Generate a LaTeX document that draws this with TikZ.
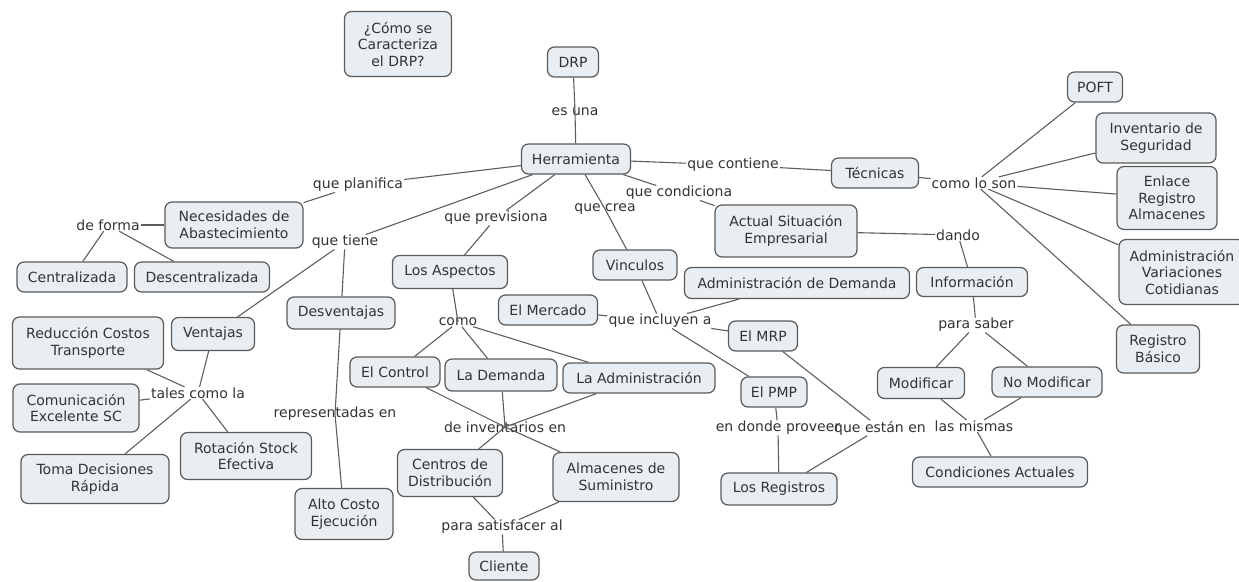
\documentclass[tikz,border=0pt]{standalone}
\usepackage{fontspec}
\setmainfont{DejaVu Sans}
\definecolor{boxfill}{HTML}{E8EEF2}
\definecolor{boxline}{HTML}{5A5A5A}
\definecolor{ink}{HTML}{333333}
\definecolor{linkline}{HTML}{5E5E5E}

\begin{document}
\begin{tikzpicture}[x=1pt,y=-1pt,
  concept/.style={draw=boxline, line width=1.2pt, fill=boxfill, rounded corners=7pt,
    text=ink, font=\fontsize{14}{16.5}\selectfont, align=center, inner sep=2pt},
  cb/.style 2 args={concept, minimum width=#1, minimum height=#2},
  linkword/.style={text=ink, font=\fontsize{14}{16.5}\selectfont, inner xsep=1pt, inner ysep=0.5pt},
  link/.style={draw=linkline, line width=1.1pt}]
\useasboundingbox (0,0) rectangle (1239,581);
\fill[white] (0,0) rectangle (1239,581);

% ---------- concepts ----------
\node[cb={107}{65}] (q) at (398,44) {¿Cómo se\\Caracteriza\\el DRP?};
\node[cb={51}{30}] (drp) at (573,62) {DRP};
\node[cb={109}{30}] (herr) at (576,159) {Herramienta};
\node[cb={138}{46}] (nec) at (234,225) {Necesidades de\\Abastecimiento};
\node[cb={110}{30}] (cent) at (72,277) {Centralizada};
\node[cb={135}{30}] (desc) at (202,277) {Descentralizada};
\node[cb={115}{33}] (asp) at (450,272) {Los Aspectos};
\node[cb={84}{30}] (vinc) at (635,265) {Vinculos};
\node[cb={142}{52}] (act) at (786,231) {Actual Situación\\Empresarial};
\node[cb={225}{31}] (admd) at (797,283) {Administración de Demanda};
\node[cb={87}{30}] (tec) at (875,173) {Técnicas};
\node[cb={55}{30}] (poft) at (1095,87) {POFT};
\node[cb={120}{50}] (inv) at (1156,138) {Inventario de\\Seguridad};
\node[cb={100}{63}] (enl) at (1167,198) {Enlace\\Registro\\Almacenes};
\node[cb={126}{65}] (adv) at (1182,272) {Administración\\Variaciones\\Cotidianas};
\node[cb={111}{29}] (info) at (972,282) {Información};
\node[cb={83}{48}] (regb) at (1158,349) {Registro\\Básico};
\node[cb={87}{31}] (mod) at (921,383) {Modificar};
\node[cb={110}{30}] (nomod) at (1047,382) {No Modificar};
\node[cb={175}{30}] (cond) at (1000,472) {Condiciones Actuales};
\node[cb={108}{32}] (desv) at (341,313) {Desventajas};
\node[cb={151}{52}] (red) at (88,343) {Reducción Costos\\Transporte};
\node[cb={83}{33}] (vent) at (213,334) {Ventajas};
\node[cb={126}{48}] (com) at (76,408) {Comunicación\\Excelente SC};
\node[cb={131}{47}] (rot) at (246,456) {Rotación Stock\\Efectiva};
\node[cb={148}{49}] (toma) at (95,479) {Toma Decisiones\\Rápida};
\node[cb={98}{51}] (alto) at (344,514) {Alto Costo\\Ejecución};
\node[cb={99}{30}] (merc) at (548,310) {El Mercado};
\node[cb={69}{30}] (mrp) at (763,336) {El MRP};
\node[cb={90}{30}] (ctrl) at (395,372) {El Control};
\node[cb={112}{32}] (dem) at (501,375) {La Demanda};
\node[cb={152}{30}] (adm) at (639,378) {La Administración};
\node[cb={66}{30}] (pmp) at (774,392) {El PMP};
\node[cb={105}{47}] (cen) at (450,473) {Centros de\\Distribución};
\node[cb={126}{49}] (alm) at (616,477) {Almacenes de\\Suministro};
\node[cb={116}{32}] (reg) at (779,489) {Los Registros};
\node[cb={70}{28}] (cli) at (504,566) {Cliente};

% ---------- linking words ----------
\node[linkword] (esuna) at (575,112) {es una};
\node[linkword] (qplan) at (358,185) {que planifica};
\node[linkword] (qtiene) at (345,242) {que tiene};
\node[linkword] (qprev) at (496,218) {que previsiona};
\node[linkword] (qcrea) at (605,209) {que crea};
\node[linkword] (qcond) at (679,193) {que condiciona};
\node[linkword] (qcont) at (733,165) {que contiene};
\node[linkword] (comolo) at (974,183) {como lo son};
\node[linkword] (dando) at (958,235) {dando};
\node[linkword] (psaber) at (976,325) {para saber};
\node[linkword] (mismas) at (974,426) {las mismas};
\node[linkword] (deforma) at (108,225) {de forma};
\node[linkword] (tales) at (198,393) {tales como la};
\node[linkword] (repr) at (335,414) {representadas en};
\node[linkword] (como) at (458,322) {como};
\node[linkword] (incl) at (660,321) {que incluyen a};
\node[linkword] (deinv) at (505,427) {de inventarios en};
\node[linkword] (psat) at (502,527) {para satisfacer al};
\node[linkword] (donde) at (778,428) {en donde proveer};
\node[linkword] (estan) at (880,428) {que están en};

% ---------- connectors ----------
\begin{scope}[link]
\draw (drp) -- (esuna.center) -- (herr);
\draw (herr) -- (qplan); \draw (qplan) -- (nec);
\draw (herr) -- (qtiene); \draw (qtiene) -- (vent); \draw (qtiene) -- (desv);
\draw (herr) -- (qprev); \draw (qprev) -- (asp);
\draw (herr) -- (qcrea.center) -- (vinc);
\draw (herr) -- (qcond); \draw (qcond) -- (act);
\draw (herr) -- (qcont); \draw (qcont) -- (tec);
\draw (tec) -- (comolo);
\draw (comolo) -- (poft); \draw (comolo) -- (inv); \draw (comolo) -- (enl);
\draw (comolo) -- (adv); \draw (comolo) -- (regb);
\draw (act) -- (dando); \draw (dando) -- (info);
\draw (info) -- (psaber); \draw (psaber) -- (mod); \draw (psaber) -- (nomod);
\draw (mod) -- (mismas); \draw (nomod) -- (mismas); \draw (mismas) -- (cond);
\draw (nec) -- (deforma); \draw (deforma) -- (cent); \draw (deforma) -- (desc);
\draw (vent) -- (tales); \draw (red) -- (tales); \draw (com) -- (tales);
\draw (tales) -- (toma); \draw (tales) -- (rot);
\draw (desv) -- (repr.center) -- (alto);
\draw (asp) -- (como.center);
\draw (como) -- (ctrl); \draw (como) -- (dem); \draw (como) -- (adm);
\draw (ctrl) -- (deinv.center); \draw (dem) -- (deinv.center); \draw (adm) -- (deinv.center);
\draw (deinv.center) -- (cen); \draw (deinv.center) -- (alm);
\draw (cen) -- (psat); \draw (alm) -- (psat); \draw (psat) -- (cli);
\draw (vinc) -- (incl);
\draw (incl) -- (merc); \draw (incl) -- (admd); \draw (incl) -- (mrp); \draw (incl) -- (pmp);
\draw (pmp) -- (donde); \draw (donde) -- (reg);
\draw (mrp) -- (estan); \draw (estan) -- (reg);
\end{scope}
\end{tikzpicture}
\end{document}
